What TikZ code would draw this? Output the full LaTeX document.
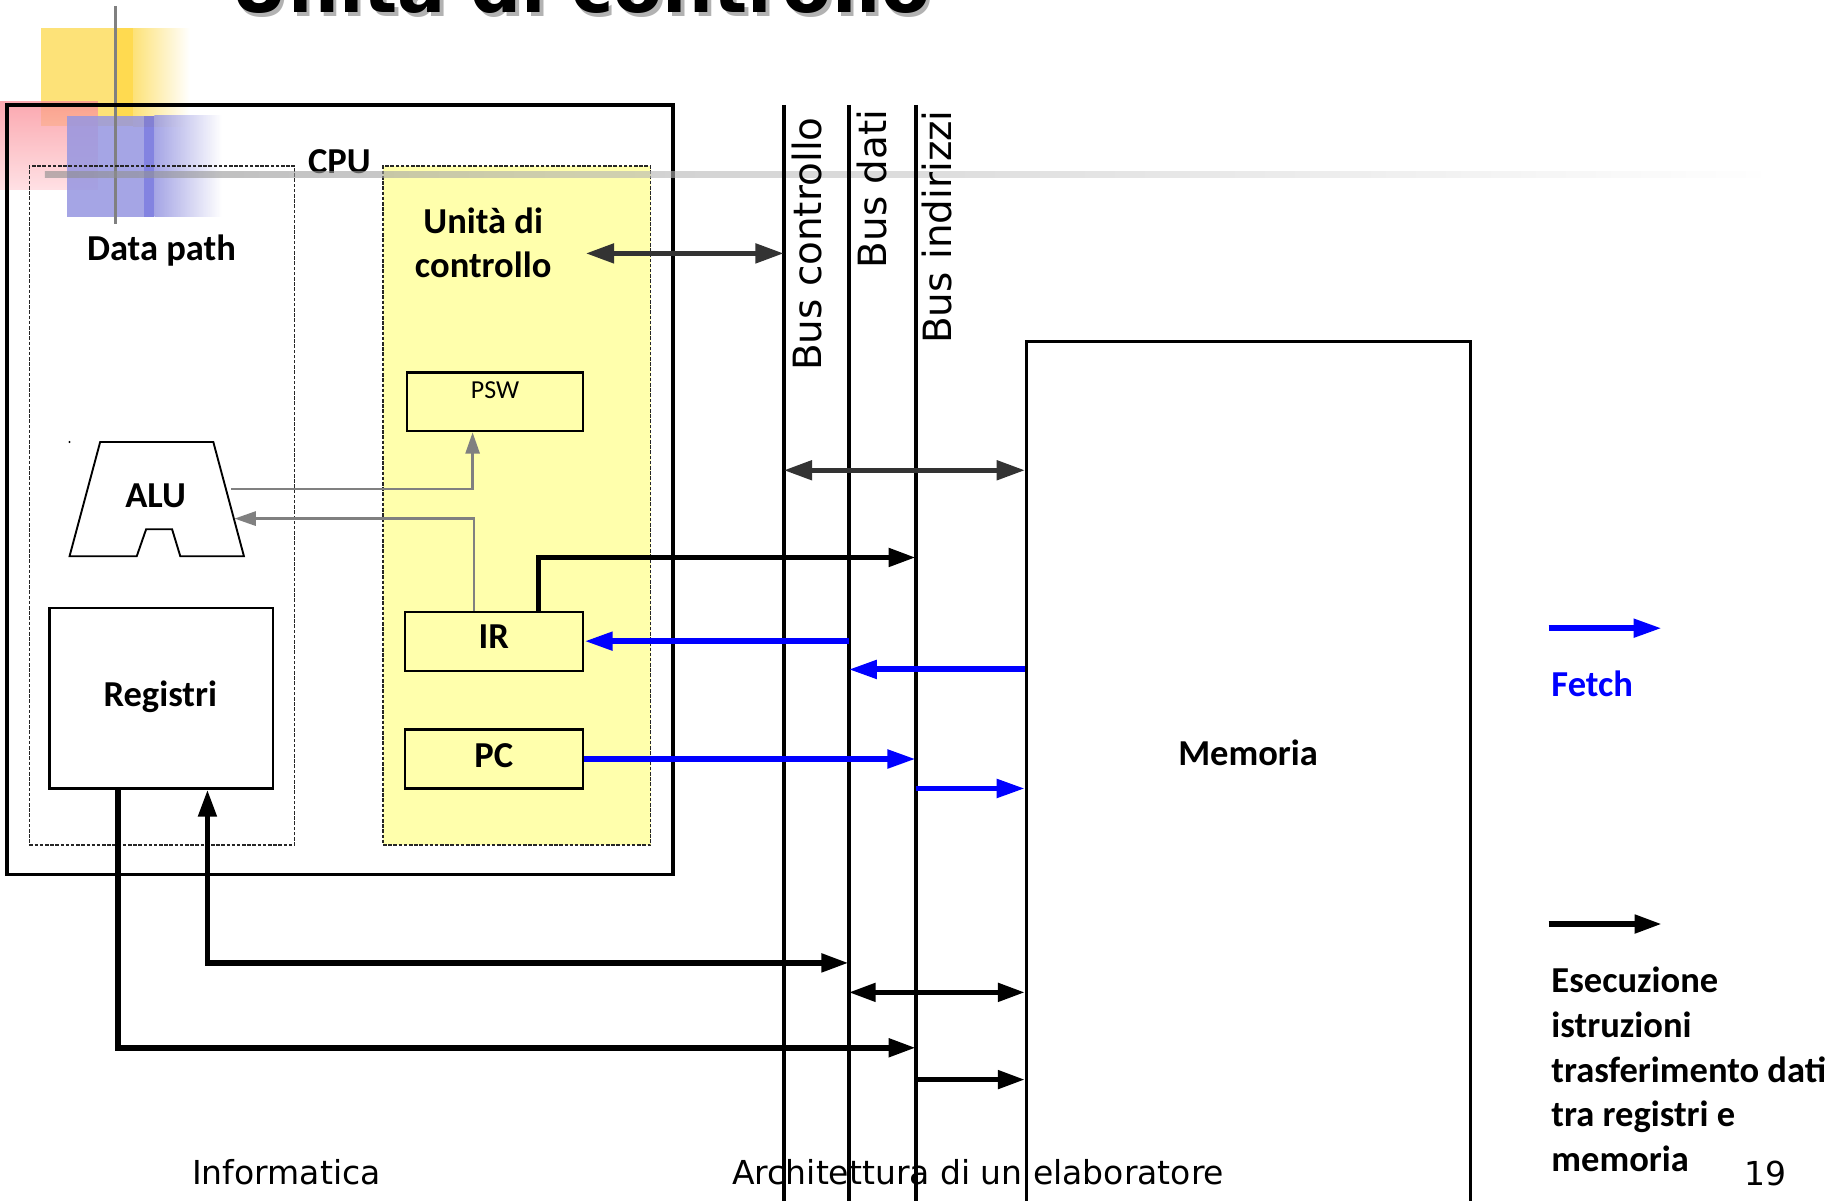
\documentclass[tikz,border=0pt]{standalone}
\usepackage{fontspec}
\setmainfont{Carlito}
\newfontfamily\dejavu{DejaVu Sans}
\usetikzlibrary{arrows.meta}
\definecolor{cuyellow}{RGB}{255,255,172}
\definecolor{dkgray}{RGB}{51,51,51}
\definecolor{midgray}{RGB}{128,128,128}
\definecolor{fetchblue}{RGB}{0,0,255}
\definecolor{decoyellow}{RGB}{253,226,120}
\definecolor{decoyellowb}{RGB}{255,218,80}
\definecolor{decored}{RGB}{250,140,150}
\definecolor{decoredlt}{RGB}{255,215,220}
\definecolor{decoblue}{RGB}{150,150,225}
\definecolor{decoblueb}{RGB}{110,110,220}
\begin{document}
\begin{tikzpicture}[x=0.5pt,y=-0.5pt,
  lbl/.style={font=\bfseries\fontsize{15.5}{19}\selectfont, inner sep=0pt},
  buslbl/.style={font=\dejavu\fontsize{16.5}{19}\selectfont, inner sep=0pt, rotate=90, anchor=west},
  foot/.style={font=\dejavu\fontsize{14}{16}\selectfont, inner sep=0pt, anchor=base},
  regbox/.style={draw, line width=0.9pt, rectangle, inner sep=0pt},
  dashbox/.style={draw=black!85, line width=0.6pt, dash pattern=on 1.5pt off 0.7pt, rectangle, inner sep=0pt},
  bus/.style={line width=1.7pt, draw=black},
  bluearr/.style={draw=fetchblue, line width=2.5pt, >={Triangle[length=12pt,width=7.5pt]}},
  blkarr/.style={draw=black, line width=2.4pt, >={Triangle[length=11.5pt,width=7.5pt]}},
  dkarr/.style={draw=dkgray, line width=2.2pt, >={Triangle[length=12pt,width=8pt]}},
  grayarr/.style={draw=midgray, line width=1pt, >={Triangle[length=9pt,width=6pt]}}
]
\useasboundingbox (0,0) rectangle (1568,1019);
\fill[white] (0,0) rectangle (1568,1019);

% title (cut off at top)
\node[anchor=base west, font=\dejavu\bfseries\fontsize{30.3}{32}\selectfont, text=black!30, inner sep=0pt] (titleshadow) at (198,14) {Unità di controllo};
\node[anchor=base west, font=\dejavu\bfseries\fontsize{30.3}{32}\selectfont, inner sep=0pt] (title) at (195,11) {Unità di controllo};

% template decoration
\fill[decoyellow] (35,24) rectangle (98,107);
\fill[decoyellowb] (98,24) rectangle (113,107);
\shade[left color=decoyellow, right color=white] (113,24) rectangle (161,107);
\shade[top color=decored, bottom color=decoredlt, fill opacity=0.75] (0,86) rectangle (83,161);
\fill[decoblue, fill opacity=0.85] (57,98) rectangle (122,184);
\fill[decoblueb, fill opacity=0.85] (122,98) rectangle (131,184);
\shade[left color=decoblue, right color=white, fill opacity=0.85] (131,98) rectangle (188,184);
\draw[line width=1.6pt, black!50] (98,5) -- (98,190);

% footer
\node[foot] (inf) at (243,1005) {Informatica};
\node[foot] (arch) at (830,1005) {Architettura di un elaboratore};
\node[foot] (pg) at (1498,1006) {19};

% CPU
\node[draw, line width=1.5pt, rectangle, inner sep=0pt, minimum width=282.5pt, minimum height=326.5pt] (cpu) at (288.5,415.5) {};
\node[lbl] (cputxt) at (288,137) {CPU};
\node[dashbox, minimum width=112.5pt, minimum height=288pt] (dp) at (137.5,429) {};
\node[dashbox, fill=cuyellow, minimum width=113.5pt, minimum height=288pt] (cu) at (438.5,429) {};

% gray template line
\shade[left color=black!45, right color=white, fill opacity=0.6] (38,145.5) rectangle (1500,150.5);

\node[lbl] (dptxt) at (137,213) {Data path};
\node[lbl, align=center] (cutxt) at (410,206) {Unità di\\controllo};

% PSW, IR, PC
\node[regbox, fill=cuyellow, minimum width=75pt, minimum height=25pt] (psw) at (420,341) {};
\node[font=\fontsize{11}{13}\selectfont, inner sep=0pt] (pswtxt) at (420,331) {PSW};
\node[regbox, fill=cuyellow, minimum width=75.5pt, minimum height=25pt] (ir) at (419.5,544) {};
\node[lbl] (irtxt) at (419,540) {IR};
\node[regbox, fill=cuyellow, minimum width=75.5pt, minimum height=25pt] (pc) at (419.5,644) {};
\node[lbl] (pctxt) at (419,641) {PC};

% Registri
\node[regbox, fill=white, minimum width=95pt, minimum height=76.5pt] (reg) at (137,592.5) {};
\node[lbl] (regtxt) at (136,591) {Registri};

% ALU
\draw[line width=0.8pt, fill=white] (85,375) -- (181,375) -- (207,472) -- (153,472) -- (146,449) -- (124,449) -- (116,472) -- (59,472) -- cycle;
\fill (59,375) circle (1);
\node[lbl] (alu) at (132,421) {ALU};
\coordinate (aluOut) at (196,415);
\coordinate (aluIn) at (199,440);

% Memoria
\node[draw, line width=1.3pt, rectangle, inner sep=0pt, minimum width=188.5pt, minimum height=370pt] (mem) at (1059.5,660) {};
\node[lbl] (memtxt) at (1059,639) {Memoria};

% buses
\coordinate (bC) at (665,89);
\coordinate (bD) at (720,89);
\coordinate (bI) at (777,89);
\coordinate (bottom) at (0,1030);
\draw[bus] (bC) -- (bC |- bottom);
\draw[bus] (bD) -- (bD |- bottom);
\draw[bus] (bI) -- (bI |- bottom);
\node[buslbl] (lbC) at (685,315) {Bus controllo};
\node[buslbl] (lbD) at (740,228) {Bus dati};
\node[buslbl] (lbI) at (795,292) {Bus indirizzi};

% y levels
\coordinate (cuA) at (497,215);
\coordinate (y399) at (0,399);
\coordinate (y473) at (0,473);
\coordinate (y568) at (0,568);
\coordinate (y669) at (0,669);
\coordinate (y817) at (0,817);
\coordinate (y842) at (0,842);
\coordinate (y889) at (0,889);
\coordinate (y916) at (0,916);

% gray arrows
\draw[grayarr, ->] (aluOut) -| ([xshift=-9.5pt]psw.south);
\draw[grayarr, ->] ([xshift=-8.75pt]ir.north) |- (aluIn);

% dark arrows
\draw[dkarr, <->] (cuA) -- (bC |- cuA);
\draw[dkarr, <->] (bC |- y399) -- (mem.west |- y399);

% black arrows
\draw[blkarr, ->] ([xshift=18.75pt]ir.north) |- (bI |- y473);
\draw[blkarr, <->] ([xshift=19.5pt]reg.south) |- (bD |- y817);
\draw[blkarr, ->] ([xshift=-18.5pt]reg.south) |- (bI |- y889);
\draw[blkarr, <->] (bD |- y842) -- (mem.west |- y842);
\draw[blkarr, ->] (bI |- y916) -- (mem.west |- y916);

% blue arrows
\draw[bluearr, ->] (bD |- ir.east) -- (ir.east);
\draw[bluearr, ->] (mem.west |- y568) -- (bD |- y568);
\draw[bluearr, ->] (pc.east) -- (bI |- pc.east);
\draw[bluearr, ->] (bI |- y669) -- (mem.west |- y669);

% legend
\coordinate (lf1) at (1314,533);
\coordinate (lf2) at (1410,533);
\coordinate (le1) at (1314,784);
\coordinate (le2) at (1410,784);
\draw[bluearr, ->] (lf1) -- (lf2);
\draw[blkarr, ->] (le1) -- (le2);
\node[lbl, anchor=west, text=fetchblue] (fetch) at (1316,580) {Fetch};
\node[lbl, anchor=north west, align=left] (esec) at (1316,820) {Esecuzione\\istruzioni\\trasferimento dati\\tra registri e\\memoria};
\end{tikzpicture}
\end{document}
